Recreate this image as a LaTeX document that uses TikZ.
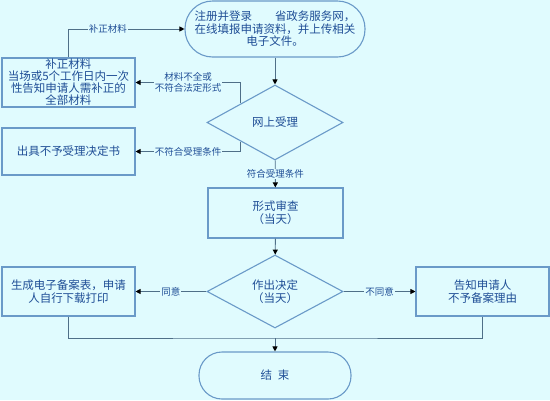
\documentclass[tikz,border=0pt]{standalone}
\usepackage{fontspec}
\setmainfont{Noto Sans CJK SC}
\usetikzlibrary{shapes,arrows.meta,positioning,calc,backgrounds}
\definecolor{paper}{HTML}{E0FBFE}
\definecolor{inkblue}{HTML}{1F4E96}
\definecolor{edgeblue}{HTML}{6A9AC8}
\definecolor{linegray}{HTML}{4F6F88}

\tikzset{
  flowbox/.style={draw=edgeblue, line width=1.1pt, fill=paper, minimum width=133pt, minimum height=49pt, inner sep=1pt, align=center, text=inkblue, font=\fontsize{11.5}{13}\selectfont},
  terminal/.style={flowbox},
  decision/.style={flowbox, diamond, aspect=1.8, inner sep=0pt, minimum width=136pt, minimum height=75pt},
  link/.style={draw=linegray, line width=0.9pt},
  flowarrow/.style={link, -{Triangle[length=5pt,width=5pt,color=black]}},
  tag/.style={fill=paper, text=inkblue, inner sep=1pt, align=center, font=\fontsize{9.5}{10.5}\selectfont},
}

\begin{document}
\begin{tikzpicture}[x=1pt, y=-1pt]
\fill[paper] (0,0) rectangle (550,400);
\useasboundingbox (0,0) rectangle (550,400);

% main column
\node[terminal, minimum width=180pt, minimum height=56pt, rounded corners=27.5pt, font=\fontsize{11.5}{12.5}\selectfont] (start) at (275,29) {注册并登录　　省政务服务网，\\在线填报申请资料，并上传相关\\电子文件。};
\node[decision] (check) at (275,122.5) {网上受理};
\node[flowbox, minimum width=135pt, minimum height=50pt] (exam) at (275.5,213) {形式审查\\（当天）};
\node[decision, minimum height=73pt] (decide) at (275,291.5) {作出决定\\（当天）};
\node[terminal, minimum width=152pt, minimum height=47pt, rounded corners=23pt] (finish) at (275,375.5) {结\hspace{0.5em}束};
\coordinate (merge) at (275,338);

% side boxes
\node[flowbox, inner sep=0.5pt, font=\fontsize{11.5}{12}\selectfont] (fix) at (68.5,82.5) {补正材料\\当场或5个工作日内一次\\性告知申请人需补正的\\全部材料};
\node[flowbox, minimum height=47pt] (reject) at (68.5,151.5) {出具不予受理决定书};
\node[flowbox] (okbox) at (68.5,291.5) {生成电子备案表，申请\\人自行下载打印};
\node[flowbox] (nobox) at (482.5,291.5) {告知申请人\\不予备案理由};

% connectors
\draw[flowarrow] (start) -- (check);
\draw[flowarrow] (fix.north) |- node[tag, pos=0.67]{补正材料} (start.west);
\draw[flowarrow] (check.north west) |- node[tag, pos=0.75]{材料不全或\\不符合法定形式} (fix.east);
\draw[flowarrow] (check.south west) |- node[tag, pos=0.75]{不符合受理条件} (reject.east);
\draw[flowarrow] (check) -- node[tag]{符合受理条件} (exam);
\draw[flowarrow] (exam) -- (decide);
\draw[flowarrow] (decide) -- node[tag]{同意} (okbox);
\draw[flowarrow] (decide) -- node[tag]{不同意} (nobox);
\draw[link] (okbox.south) |- (merge) -| (nobox.south);
\draw[flowarrow] (merge) -- (finish);
\end{tikzpicture}
\end{document}
